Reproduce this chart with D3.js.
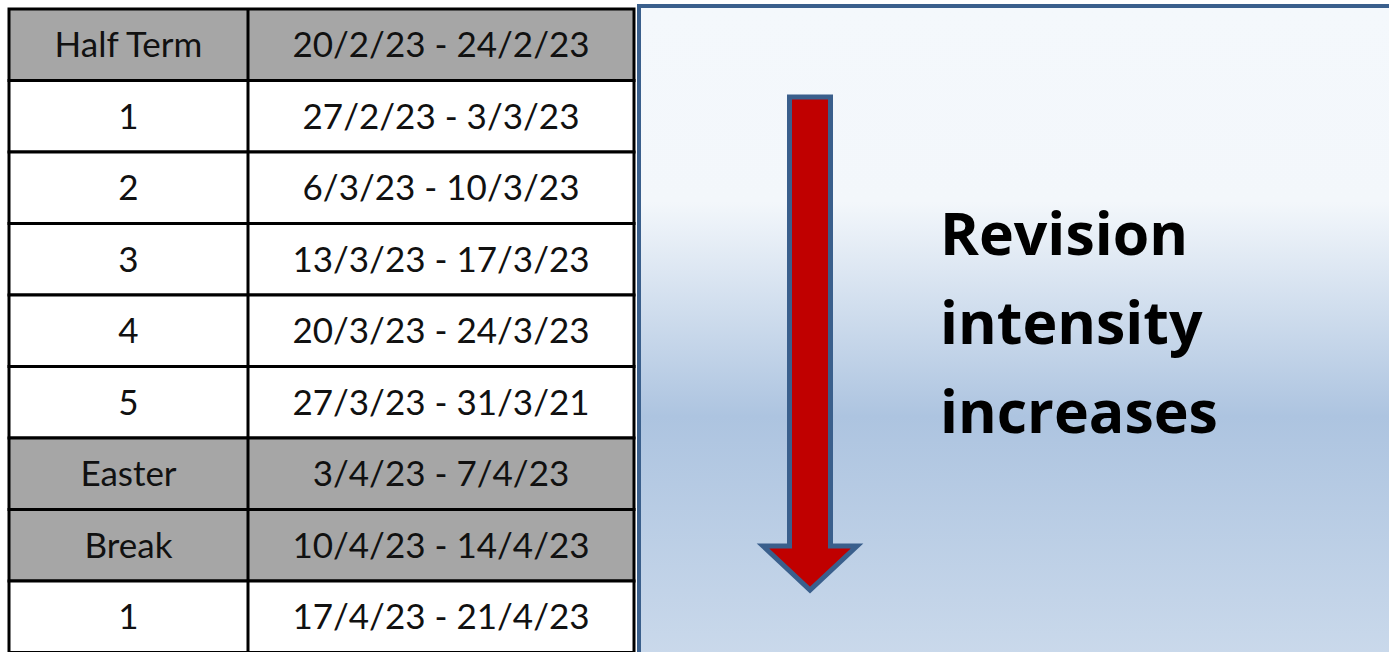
<!DOCTYPE html>
<html>
<head>
<meta charset="utf-8">
<script src="https://cdn.jsdelivr.net/npm/d3@7"></script>
<style>
  html, body { margin: 0; padding: 0; background: #fff; overflow: hidden; }
</style>
</head>
<body>
<svg id="chart"></svg>
<script>
// table content
var weeks = ["Half Term", "1", "2", "3", "4", "5", "Easter", "Break", "1"];
var dates = ["20/2/23 - 24/2/23", "27/2/23 - 3/3/23", "6/3/23 - 10/3/23",
             "13/3/23 - 17/3/23", "20/3/23 - 24/3/23", "27/3/23 - 31/3/21",
             "3/4/23 - 7/4/23", "10/4/23 - 14/4/23", "17/4/23 - 21/4/23"];
var holiday = [true, false, false, false, false, false, true, true, false];
var message = ["Revision", "intensity", "increases"];

var width = 1389, height = 652;
var svg = d3.select("#chart").attr("width", width).attr("height", height);

// rows and columns
var y = d3.scaleBand().domain(d3.range(weeks.length)).range([9, 652.5]);
var x = d3.scaleLinear().domain([0, 1, 2]).range([9, 248, 634]);

// right panel gradient
var defs = svg.append("defs");
var grad = defs.append("linearGradient").attr("id", "panelGrad")
    .attr("x1", 0).attr("y1", 0).attr("x2", 0).attr("y2", 1);
grad.append("stop").attr("offset", "0%").attr("stop-color", "#f4f8fc");
grad.append("stop").attr("offset", "30%").attr("stop-color", "#f3f7fb");
grad.append("stop").attr("offset", "63%").attr("stop-color", "#adc4e0");
grad.append("stop").attr("offset", "100%").attr("stop-color", "#cad9eb");

svg.append("rect")
    .attr("x", 639).attr("y", 6)
    .attr("width", width - 639 + 10).attr("height", height)
    .style("fill", "url(#panelGrad)")
    .style("stroke", "#3a5f8c")
    .style("stroke-width", 4);

// table rows
var row = svg.selectAll(".row")
    .data(weeks)
    .enter().append("g")
    .attr("class", "row");

row.append("rect")
    .attr("x", x(0))
    .attr("y", function (d, i) { return y(i); })
    .attr("width", x(2) - x(0))
    .attr("height", y.bandwidth())
    .style("fill", function (d, i) { return holiday[i] ? "#a6a6a6" : "#ffffff"; })
    .style("stroke", "#000")
    .style("stroke-width", 3);

row.append("text")
    .attr("x", (x(0) + x(1)) / 2)
    .attr("y", function (d, i) { return y(i) + y.bandwidth() / 2; })
    .attr("dy", "0.36em")
    .attr("text-anchor", "middle")
    .style("font-family", "Lato, sans-serif")
    .style("font-size", "35px")
    .style("fill", "#111")
    .text(function (d) { return d; });

row.append("text")
    .attr("x", (x(1) + x(2)) / 2)
    .attr("y", function (d, i) { return y(i) + y.bandwidth() / 2; })
    .attr("dy", "0.36em")
    .attr("text-anchor", "middle")
    .style("font-family", "Lato, sans-serif")
    .style("font-size", "35px")
    .style("fill", "#111")
    .text(function (d, i) { return dates[i]; });

// column divider
svg.append("line")
    .attr("x1", x(1)).attr("x2", x(1))
    .attr("y1", y(0)).attr("y2", height)
    .style("stroke", "#000").style("stroke-width", 3);

// down arrow
var arrow = [[789.5, 97], [830.5, 97], [830.5, 546], [857, 546], [810, 590],
             [763, 546], [789.5, 546]];
svg.append("path")
    .attr("d", d3.line()(arrow) + "Z")
    .style("fill", "#c00000")
    .style("stroke", "#3a5f8c")
    .style("stroke-width", 5)
    .style("stroke-linejoin", "miter");

// label
svg.selectAll(".msg")
    .data(message)
    .enter().append("text")
    .attr("class", "msg")
    .attr("x", 940)
    .attr("y", function (d, i) { return 255 + i * 89; })
    .style("font-family", "'Open Sans', sans-serif")
    .style("font-weight", "bold")
    .style("font-size", "59px")
    .style("fill", "#000")
    .text(function (d) { return d; });
</script>
</body>
</html>
